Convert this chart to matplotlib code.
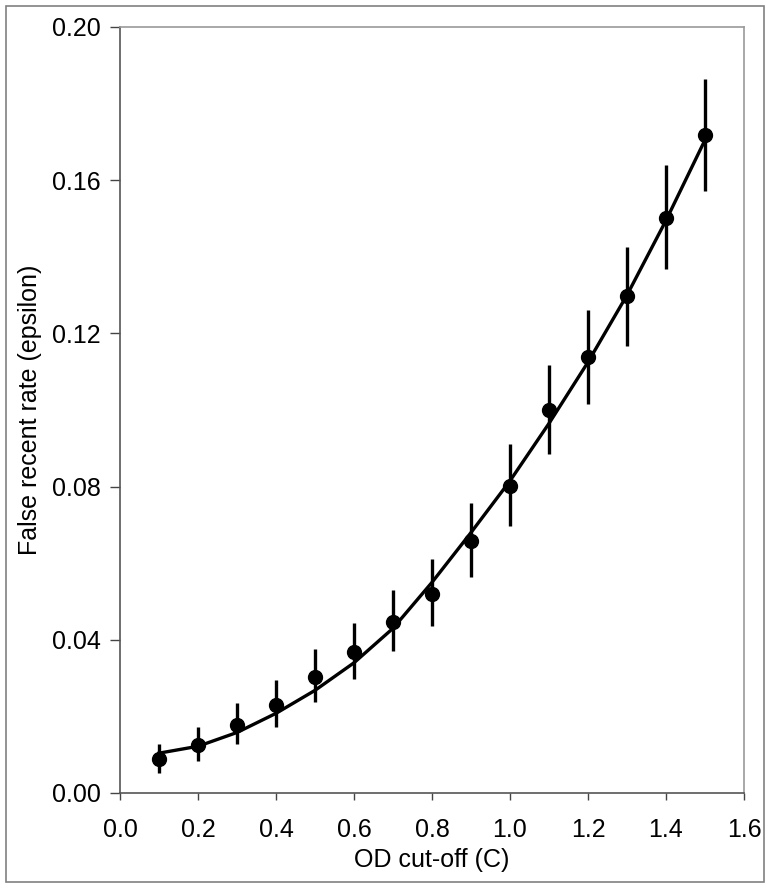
import numpy as np
import matplotlib
matplotlib.use('Agg')
import matplotlib.pyplot as plt
from matplotlib.patches import Rectangle

plt.rcParams['font.family'] = ['Liberation Sans', 'DejaVu Sans']

# observed false recent rates with error bar limits
od_cut = [0.1, 0.2, 0.3, 0.4, 0.5, 0.6, 0.7, 0.8, 0.9, 1.0, 1.1, 1.2, 1.3, 1.4, 1.5]
eps    = [0.0089, 0.0125, 0.0178, 0.0230, 0.0303, 0.0368, 0.0447, 0.0520, 0.0658, 0.0802, 0.1000, 0.1138, 0.1298, 0.1501, 0.1718]
eps_hi = [0.0128, 0.0172, 0.0235, 0.0295, 0.0376, 0.0444, 0.0530, 0.0611, 0.0757, 0.0911, 0.1117, 0.1261, 0.1426, 0.1640, 0.1864]
eps_lo = [0.0052, 0.0084, 0.0128, 0.0172, 0.0238, 0.0298, 0.0370, 0.0436, 0.0564, 0.0697, 0.0885, 0.1016, 0.1166, 0.1368, 0.1572]

# fitted curve
fit_x = [0.1, 0.2, 0.3, 0.4, 0.5, 0.6, 0.7, 0.8, 0.9, 1.0, 1.1, 1.2, 1.3, 1.4, 1.5]
fit_y = [0.0104, 0.0122, 0.0158, 0.0208, 0.0268, 0.0340, 0.0430, 0.0550, 0.0680, 0.0815, 0.0965, 0.1125, 0.1300, 0.1495, 0.1705]

xticks = [0.0, 0.2, 0.4, 0.6, 0.8, 1.0, 1.2, 1.4, 1.6]
yticks = [0.00, 0.04, 0.08, 0.12, 0.16, 0.20]

fig = plt.figure(figsize=(7.72, 8.89), dpi=100)
ax = fig.add_axes([120/772, 1-793/889, (744-120)/772, (793-27)/889])

eps = np.array(eps)
yerr = [eps - np.array(eps_lo), np.array(eps_hi) - eps]
ax.plot(fit_x, fit_y, color='black', lw=2.4, zorder=2)
ax.errorbar(od_cut, eps, yerr=yerr, fmt='o', color='black', ms=10,
            elinewidth=2.4, capsize=0, zorder=3)

ax.set_xlim(0, 1.6)
ax.set_ylim(0, 0.20)
ax.set_xticks(xticks)
ax.set_xticklabels(['%.1f' % v for v in xticks])
ax.set_yticks(yticks)
ax.set_yticklabels(['%.2f' % v for v in yticks])
ax.tick_params(axis='both', labelsize=18, direction='out', colors='#444444',
               labelcolor='black', width=1)
ax.tick_params(axis='x', length=5, pad=13)
ax.tick_params(axis='y', length=7, pad=7)

for s in ['left', 'bottom']:
    ax.spines[s].set_color('#555555')
    ax.spines[s].set_linewidth(1.2)
for s in ['top', 'right']:
    ax.spines[s].set_color('#999999')
    ax.spines[s].set_linewidth(1.2)

ax.set_xlabel('OD cut-off (C)', fontsize=18, labelpad=4)
ax.set_ylabel('False recent rate (epsilon)', fontsize=18, labelpad=7)

# outer frame around the whole chart
fig.patches.append(Rectangle((6/772, 1-882/889), (764-6)/772, (882-6)/889,
                             transform=fig.transFigure, fill=False,
                             edgecolor='#808080', lw=1.2))

fig.savefig('out.png', dpi=100)
